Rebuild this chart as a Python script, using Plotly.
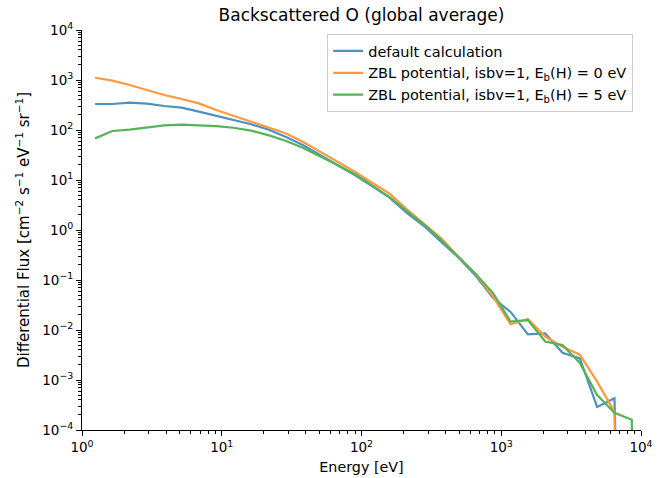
import plotly.graph_objects as go
import numpy as np

# ---- data ----
energy = [1.24, 1.65, 2.19, 2.92, 3.88, 5.16, 6.86, 9.13, 12.1, 16.2, 21.5, 28.6,
          38.0, 50.5, 67.2, 89.4, 119, 158, 211, 280, 372, 495, 659, 877, 1166,
          1551, 2063, 2744, 3650, 4855, 6457, 8589, 11425]

flux_default = [331, 331, 352, 336, 302, 280, 233, 190, 158, 130, 102, 73, 50, 32,
                20, 12.6, 7.6, 4.5, 2.2, 1.2, 0.58, 0.28, 0.12, 0.043, 0.023,
                0.0082, 0.0086, 0.0035, 0.0027, 0.00029, 0.00043, 0, 0]

flux_zbl_0 = [1110, 970, 794, 631, 501, 417, 341, 251, 194, 147, 113, 86, 58, 37,
              23, 14.7, 8.8, 5.4, 2.6, 1.36, 0.68, 0.29, 0.13, 0.046, 0.013,
              0.0166, 0.0074, 0.0046, 0.0032, 0.00093, 0.00023, 0, 0]

flux_zbl_5 = [68, 95.5, 102, 113, 124, 128, 126, 120, 111, 97, 79, 61, 44, 30,
              20, 13.2, 7.9, 4.6, 2.4, 1.3, 0.63, 0.29, 0.13, 0.054, 0.0147,
              0.0158, 0.0059, 0.005, 0.0022, 0.0005, 0.00022, 0.00016, 0]

series_names = ["default calculation",
                "ZBL potential, isbv=1, E<sub>b</sub>(H) = 0 eV",
                "ZBL potential, isbv=1, E<sub>b</sub>(H) = 5 eV"]
series_colors = ["rgb(75,146,195)", "rgb(255,153,62)", "rgb(86,179,86)"]

x_tickvals = [1, 10, 100, 1000, 10000]
x_ticktext = ["10<sup>0</sup>", "10<sup>1</sup>", "10<sup>2</sup>", "10<sup>3</sup>", "10<sup>4</sup>"]
y_tickvals = [1e-4, 1e-3, 1e-2, 1e-1, 1, 10, 100, 1000, 10000]
y_ticktext = ["10<sup>\u22124</sup>", "10<sup>\u22123</sup>", "10<sup>\u22122</sup>",
              "10<sup>\u22121</sup>", "10<sup>0</sup>", "10<sup>1</sup>",
              "10<sup>2</sup>", "10<sup>3</sup>", "10<sup>4</sup>"]


def minor_vals(lo, hi):
    out = []
    for d in range(lo, hi):
        for m in range(2, 10):
            out.append(m * 10.0 ** d)
    return out


fig = go.Figure()
for name, ys, col in zip(series_names, [flux_default, flux_zbl_0, flux_zbl_5], series_colors):
    y = np.array(ys, dtype=float)
    # zero flux: drop off the log axis like matplotlib's clipping
    y = np.where(y > 0, y, 1e-30)
    fig.add_trace(go.Scatter(x=energy, y=y, mode="lines", name=name,
                             line=dict(color=col, width=2.2)))

font = dict(family="DejaVu Sans", size=13, color="black")
fig.update_layout(
    width=667, height=478,
    margin=dict(l=82, r=26, t=30, b=48),
    paper_bgcolor="white", plot_bgcolor="white",
    font=font,
    title=dict(text="Backscattered O (global average)", x=(82 + 559 / 2) / 667,
               xanchor="center", y=1 - 15 / 478, yanchor="middle",
               font=dict(family="DejaVu Sans", size=17, color="black")),
    showlegend=True,
    legend=dict(x=0.986, xanchor="right", y=0.99, yanchor="top",
                bgcolor="rgba(255,255,255,0.8)", bordercolor="#cccccc", borderwidth=1,
                font=dict(family="DejaVu Sans", size=14.5, color="black"),
                itemwidth=30),
)
fig.update_xaxes(type="log", range=[0, 4], showgrid=False, zeroline=False,
                 automargin=False,
                 showline=True, linecolor="black", linewidth=1,
                 ticks="outside", ticklen=5, tickwidth=1, tickcolor="black",
                 tickmode="array", tickvals=x_tickvals, ticktext=x_ticktext,
                 tickfont=dict(size=13.5),
                 minor=dict(tickmode="array", tickvals=minor_vals(0, 4), ticks="outside",
                            ticklen=3, tickwidth=0.8, tickcolor="black", showgrid=False),
                 title=dict(text="Energy [eV]", standoff=7, font=dict(size=14.3)))
fig.update_yaxes(type="log", range=[-4, 4], showgrid=False, zeroline=False,
                 automargin=False,
                 showline=True, linecolor="black", linewidth=1,
                 ticks="outside", ticklen=5, tickwidth=1, tickcolor="black",
                 tickmode="array", tickvals=y_tickvals, ticktext=y_ticktext,
                 tickfont=dict(size=13.5),
                 minor=dict(tickmode="array", tickvals=minor_vals(-4, 4), ticks="outside",
                            ticklen=3, tickwidth=0.8, tickcolor="black", showgrid=False),
                 title=dict(text="Differential Flux [cm<sup>\u22122</sup> s<sup>\u22121</sup> eV<sup>\u22121</sup> sr<sup>\u22121</sup>]",
                            standoff=8, font=dict(size=15)))

fig.write_html("out.html")
